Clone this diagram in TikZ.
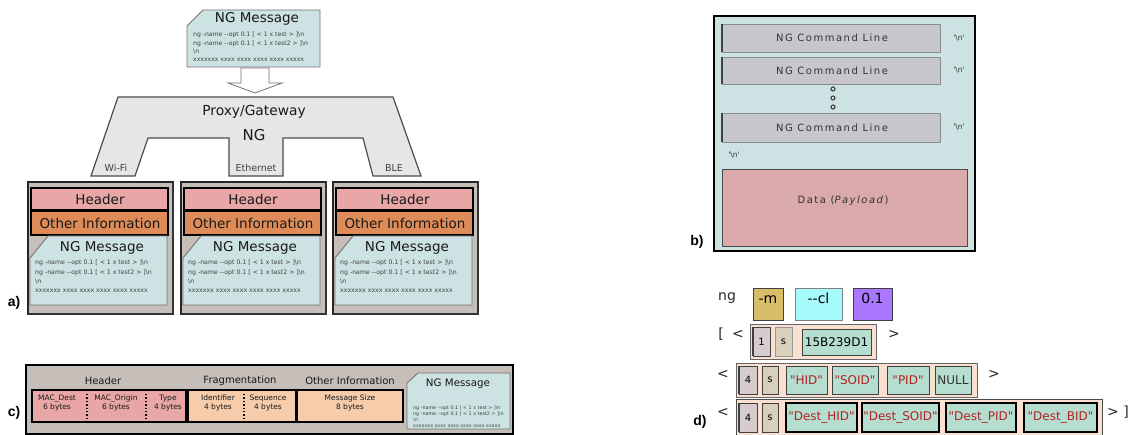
\documentclass[tikz,border=0pt]{standalone}
\usepackage{fontspec}
\setmainfont{DejaVu Sans}[Ligatures=TeXOff]
\newfontfamily\lblfont{Liberation Sans}[Ligatures=TeXOff]
\newfontfamily\widefont{DejaVu Sans}[Ligatures=TeXOff, LetterSpace=15]

\definecolor{msgblue}{RGB}{205,227,227}
\definecolor{gwgray}{RGB}{230,230,230}
\definecolor{tanbg}{RGB}{198,190,184}
\definecolor{hdrpink}{RGB}{232,166,166}
\definecolor{infoorange}{RGB}{222,139,88}
\definecolor{peach}{RGB}{246,204,170}
\definecolor{cmdgray}{RGB}{198,198,204}
\definecolor{datapink}{RGB}{218,170,170}
\definecolor{optgold}{RGB}{217,190,106}
\definecolor{optcyan}{RGB}{166,250,250}
\definecolor{optpurple}{RGB}{170,120,255}
\definecolor{rowpeach}{RGB}{250,224,208}
\definecolor{numgray}{RGB}{214,204,206}
\definecolor{stan}{RGB}{216,208,186}
\definecolor{mint}{RGB}{182,222,208}
\definecolor{strred}{RGB}{178,34,34}

% lines of an NG message
\newcommand{\msgtext}{ng -name --opt 0.1 [ < 1 x test > ]\textbackslash n\\ng -name --opt 0.1 [ < 1 x test2 > ]\textbackslash n\\\textbackslash n\\xxxxxxx xxxx xxxx xxxx xxxx xxxxx}

\begin{document}
\begin{tikzpicture}[x=1pt, y=-1pt,
  frame/.style={draw=black!80, line width=1.6pt, fill=tanbg},
  band/.style={draw=black, line width=1.4pt},
  msgbox/.style={draw=black!55, line width=0.9pt, fill=msgblue},
  bigtxt/.style={font=\fontsize{13.5}{15}\selectfont, text=black!90},
  tinytxt/.style={font=\fontsize{6.2}{9.2}\selectfont, text=black!75, align=left, inner sep=0, anchor=north west},
  ctxt/.style={font=\fontsize{10}{11}\selectfont, text=black!90},
  fieldtxt/.style={font=\fontsize{7.5}{8.5}\selectfont, text=black!90, align=center},
  cmdline/.style={draw=black!45, line width=0.8pt, fill=cmdgray},
  nltxt/.style={font=\fontsize{7.5}{8}\selectfont, text=black!80},
  dbox/.style={draw=black!75, line width=0.8pt, inner sep=0, font=\fontsize{14}{15}\selectfont, text height=10pt, text depth=10pt},
  numbox/.style={draw=black!75, line width=0.8pt, inner sep=0, font=\fontsize{10}{11}\selectfont},
  sbox/.style={draw=black!75, line width=0.8pt, inner sep=0, fill=mint, minimum height=28, font=\fontsize{12}{13}\selectfont, text=strred},
  plain/.style={font=\fontsize{14}{15}\selectfont, text=black!85},
  lbl/.style={font=\lblfont\bfseries\fontsize{14}{15}\selectfont}]
\useasboundingbox [fill=white] (0,0) rectangle (1132,435);

% ---- a) ----
\draw [msgbox] (203,10) -- (320,10) -- (320,67) -- (187,67) -- (187,26) -- cycle;
\node (topmsg) at (257,19) [bigtxt] {NG Message};
\node (toplines) at (193,32) [tinytxt, font=\fontsize{6.1}{8.3}\selectfont] {\msgtext};
\draw [black!55, fill=white, line width=0.8pt] (241,68) -- (269,68) -- (269,83) -- (282,83) -- (255,93) -- (228,83) -- (241,83) -- cycle;
\draw [black!70, fill=gwgray, line width=1.2pt] (118,97) -- (393,97) -- (421,176) -- (373,176) -- (363,138) -- (283,138) -- (283,176) -- (229,176) -- (229,138) -- (148,138) -- (135,176) -- (91,176) -- cycle;
\node (proxy) at (254,112) [font=\fontsize{13.8}{17}\selectfont, text=black!90] {Proxy/Gateway};
\node (proxyng) at (254,135) [font=\fontsize{15}{17}\selectfont, text=black!90] {NG};
\node (wifi) at (116,168) [font=\fontsize{9.5}{10}\selectfont, text=black!75] {Wi-Fi};
\node (eth) at (256,168) [font=\fontsize{9.5}{10}\selectfont, text=black!75] {Ethernet};
\node (ble) at (394,168) [font=\fontsize{9.5}{10}\selectfont, text=black!75] {BLE};
\foreach \dx/\nm in {0/wifi,153/eth,305/ble} {
  \draw [frame] (28+\dx,182) rectangle (173+\dx,314);
  \draw [black!85, line width=2.2pt] (28+\dx,314) -- (28+\dx,182) -- (173+\dx,182);
  \draw [band, fill=hdrpink] (31+\dx,188) rectangle (168+\dx,210);
  \draw [band, fill=infoorange] (31+\dx,211) rectangle (168+\dx,235);
  \draw [msgbox] (48+\dx,236) -- (167+\dx,236) -- (167+\dx,305) -- (30+\dx,305) -- (30+\dx,258) -- cycle;
  \node (hdr\nm) at (100+\dx,199) [bigtxt] {Header};
  \node (info\nm) at (100+\dx,223) [bigtxt] {Other Information};
  \node (msg\nm) at (102+\dx,248) [bigtxt] {NG Message};
  \node (lines\nm) at (35+\dx,260) [tinytxt] {\msgtext};
}
\node (la) at (14,303) [lbl] {a)};

% ---- b) ----
\draw [fill=msgblue, line width=1.6pt] (714,16) rectangle (975,251);
\foreach \ya/\yb/\nm in {24/52/one,57/84/two,113/142/last} {
  \draw [cmdline] (722,\ya) rectangle (940,\yb);
  \draw [black!75, line width=1.4pt] (722,\ya) -- (722,\yb);
  \node (cmd\nm) at (832,{(\ya+\yb)/2}) [font=\widefont\fontsize{10}{11}\selectfont, text=black!80] {NG Command Line};
  \node (nl\nm) at (959,{(\ya+\yb)/2}) [nltxt] {'\textbackslash n'};
}
\foreach \y in {89,98,107}
  \draw [black!75, fill=msgblue, line width=1.1pt] (833,\y) circle [radius=2];
\node (nlend) at (734,155) [nltxt] {'\textbackslash n'};
\draw [black!70, fill=datapink, line width=0.9pt] (722,169) rectangle (967,246);
\node (data) at (843,201) [font=\widefont\fontsize{10}{11}\selectfont, text=black!80] {Data (\textit{Payload})};
\node (lb) at (697,242) [lbl] {b)};

% ---- c) ----
\draw [frame, draw=black, line width=1.8pt] (26,365) rectangle (513,434);
\node (chdr) at (103,381) [ctxt] {Header};
\node (cfrag) at (240,381) [ctxt] {Fragmentation};
\node (cinfo) at (350,381) [ctxt] {Other Information};
\draw [band, fill=hdrpink] (32,390) rectangle (186,422);
\draw [band, fill=peach] (188,390) rectangle (296,422);
\draw [band, fill=peach] (297,390) rectangle (403,422);
\foreach \x in {87,146,244}
  \draw [black, line width=1.4pt, dotted] (\x,394) -- (\x,419);
\node (macdest) at (57,403) [fieldtxt] {MAC\_Dest\\6 bytes};
\node (macorig) at (116,403) [fieldtxt] {MAC\_Origin\\6 bytes};
\node (ctype) at (168,403) [fieldtxt] {Type\\4 bytes};
\node (ident) at (218,403) [fieldtxt] {Identifier\\4 bytes};
\node (seq) at (268,403) [fieldtxt] {Sequence\\4 bytes};
\node (msize) at (350,403) [fieldtxt] {Message Size\\8 bytes};
\draw [msgbox] (418,373) -- (510,373) -- (510,429) -- (407,429) -- (407,383) -- cycle;
\node (cmsg) at (458,384) [ctxt, font=\fontsize{10.3}{11}\selectfont] {NG Message};
\node (clines) at (413,406) [tinytxt, font=\fontsize{4.8}{6}\selectfont] {\msgtext};
\node (lc) at (14,413) [lbl] {c)};

% ---- d) ----
\node (ng) at (727,298) [plain] {ng};
\node (optm) at (768,304) [dbox, fill=optgold, minimum width=30, minimum height=32] {-m};
\node (optcl) at (818.5,304) [dbox, fill=optcyan, draw=black!50, minimum width=47, minimum height=32] {--cl};
\node (optver) at (872.5,304) [dbox, fill=optpurple, minimum width=39, minimum height=32] {0.1};
% first block
\node (brk) at (721,334) [plain] {[};
\node (lt1) at (738,334) [plain] {<};
\draw [black!60, fill=rowpeach, line width=0.8pt] (750,324) rectangle (876,359);
\node (one) at (761.5,341.5) [numbox, fill=numgray, minimum width=17, minimum height=29] {1};
\draw [black!75, line width=1.4pt] (one.north west) -- (one.south west);
\node (s1) at (783.5,341.5) [numbox, fill=stan, draw=black!40, minimum width=17, minimum height=29] {s};
\node (hid) at (836.5,342) [numbox, fill=mint, minimum width=69, minimum height=26, font=\fontsize{12}{13}\selectfont] {15B239D1};
\node (gt1) at (894,334) [plain] {>};
% second block
\node (lt2) at (723,374) [plain] {<};
\draw [black!60, fill=rowpeach, line width=0.8pt] (736,363) rectangle (977,397);
\node (four) at (748,380) [numbox, fill=numgray, minimum width=18, minimum height=28] {4};
\draw [black!75, line width=1.4pt] (four.north west) -- (four.south west);
\node (s2) at (770,380) [numbox, fill=stan, minimum width=16, minimum height=28] {s};
\foreach \xc/\w/\t/\nm in {806.5/41/"HID"/shid,855/46/"SOID"/ssoid,908/42/"PID"/spid} {
  \node (\nm) at (\xc,380) [sbox, minimum width=\w] {\t};
}
\node (null) at (953,380) [sbox, minimum width=36, text=black!80] {NULL};
\node (gt2) at (994,374) [plain] {>};
% third block
\node (lt3) at (723,412) [plain] {<};
\draw [black!70, fill=rowpeach, line width=1pt] (736,399) rectangle (1102,437);
\node (fourb) at (748,417.5) [numbox, fill=numgray, minimum width=18, minimum height=29] {4};
\draw [black!75, line width=1.4pt] (fourb.north west) -- (fourb.south west);
\node (s3) at (770,417.5) [numbox, fill=stan, minimum width=16, minimum height=29] {s};
\foreach \xc/\w/\t/\nm in {821.5/71/"Dest\_HID"/dhid,900.5/77/"Dest\_SOID"/dsoid,981/70/"Dest\_PID"/dpid,1060.5/73/"Dest\_BID"/dbid} {
  \node (\nm) at (\xc,417.5) [sbox, draw=black, line width=1.2pt, minimum width=\w, minimum height=29] {\t};
}
\node (gt3) at (1118,412) [plain] {> ]};
\node (ld) at (700,422) [lbl] {d)};
\end{tikzpicture}
\end{document}
